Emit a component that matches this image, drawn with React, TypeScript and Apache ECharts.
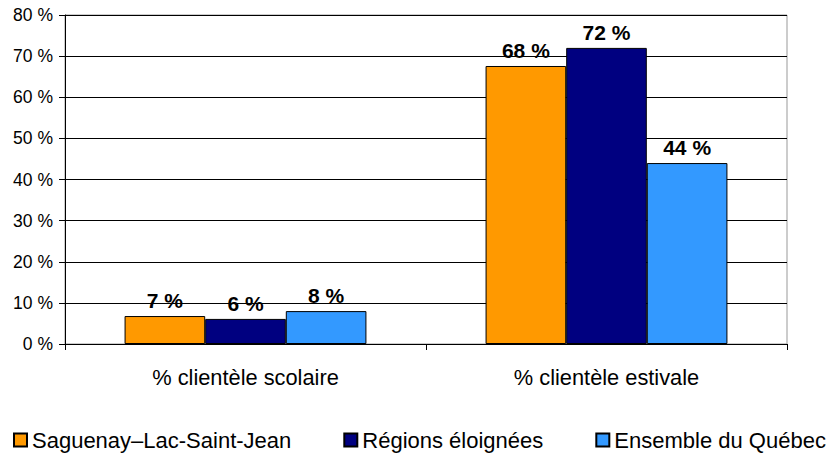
import React, { useEffect, useRef } from "react";
import * as echarts from "echarts";

const categories = ["% clientèle scolaire", "% clientèle estivale"];
const seriesNames = ["Saguenay–Lac-Saint-Jean", "Régions éloignées", "Ensemble du Québec"];
const saguenay = [6.8, 67.6];
const regions = [6.1, 72.0];
const quebec = [8.0, 44.0];
const colors = ["#FF9900", "#000080", "#3399FF"];
const yTicks = [0, 10, 20, 30, 40, 50, 60, 70, 80];

export default function App() {
  const ref = useRef<HTMLDivElement>(null);
  useEffect(() => {
    if (!ref.current) return;
    const chart = echarts.init(ref.current, null, { renderer: "svg" });
    const font = "'Liberation Sans', Arial, sans-serif";
    const values = [saguenay, regions, quebec];
    chart.setOption({
      animation: false,
      textStyle: { fontFamily: font },
      grid: {
        left: 65,
        right: 44,
        top: 15,
        bottom: 110,
        show: true,
        borderColor: "#999",
        borderWidth: 1,
      },
      legend: {
        top: 429,
        left: 13,
        padding: 0,
        icon: "rect",
        itemWidth: 13,
        itemHeight: 13,
        itemGap: 52,
        textStyle: { fontSize: 22, color: "#000", fontFamily: font },
        data: seriesNames,
      },
      xAxis: {
        type: "category",
        data: categories,
        axisLine: { lineStyle: { color: "#000", width: 1 } },
        axisTick: { show: true, length: 6, lineStyle: { color: "#000" } },
        axisLabel: { fontSize: 21.8, color: "#000", margin: 22, fontFamily: font },
      },
      yAxis: {
        type: "value",
        min: yTicks[0],
        max: yTicks[yTicks.length - 1],
        interval: 10,
        axisLine: { show: true, lineStyle: { color: "#000", width: 1 } },
        axisTick: { show: true, length: 6, lineStyle: { color: "#000" } },
        axisLabel: {
          fontSize: 17.5,
          color: "#000",
          margin: 12,
          fontFamily: font,
          formatter: (v: number) => `${v} %`,
        },
        splitLine: { lineStyle: { color: "#000", width: 1 } },
      },
      series: seriesNames.map((name, i) => ({
        name,
        type: "bar",
        data: values[i],
        barGap: "0%",
        barCategoryGap: "33%",
        itemStyle: { color: colors[i], borderColor: "#000", borderWidth: 1 },
        label: {
          show: true,
          position: "top",
          distance: 5,
          fontSize: 21,
          fontWeight: "bold",
          color: "#000",
          fontFamily: font,
          formatter: (p: any) => `${Math.round(p.value)} %`,
        },
      })),
    });
    return () => chart.dispose();
  }, []);
  return <div ref={ref} style={{ width: 831, height: 454, position: "absolute", left: 0, top: 0 }} />;
}
